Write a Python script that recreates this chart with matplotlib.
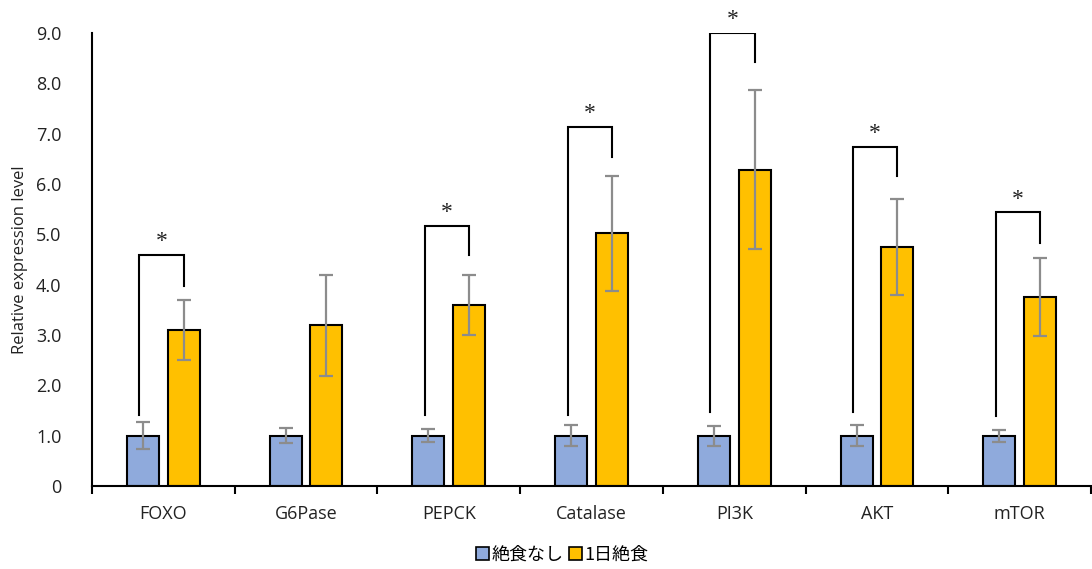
import matplotlib
matplotlib.use("Agg")
import matplotlib.pyplot as plt
import numpy as np
from matplotlib.patches import Patch

# Gene expression data
genes = ["FOXO", "G6Pase", "PEPCK", "Catalase", "PI3K", "AKT", "mTOR"]
control_mean = [1.00, 1.00, 1.00, 1.00, 1.00, 1.00, 1.00]
control_err = [0.27, 0.15, 0.13, 0.21, 0.20, 0.21, 0.12]
fasted_mean = [3.10, 3.19, 3.60,5.02, 6.28, 4.75, 3.76]
fasted_err = [0.60, 1.01, 0.59, 1.14, 1.58, 0.95, 0.77]
series_names = ["絶食なし", "1日絶食"]

# Significance brackets: (gene index, left foot, right foot, top)
sig_genes = [0, 2, 3, 4, 5, 6]
sig_left_foot = [1.41, 1.41, 1.41, 1.48, 1.48, 1.40]
sig_right_foot = [3.98, 4.59, 6.54, 8.42, 6.15, 4.83]
sig_top = [4.59, 5.17, 7.14, 9.01, 6.74, 5.44]

plt.rcParams["font.family"] = ["Open Sans", "Noto Sans CJK JP", "DejaVu Sans"]

fig = plt.figure(figsize=(10.92, 5.69), dpi=100)
ax = fig.add_axes([0.0842, 0.1459, 0.915, 0.796])

x = np.arange(len(genes))
w = 0.224
off = 0.143
blue = "#8FAADC"
gold = "#FFC000"
err_kw = dict(ecolor="#8C8C8C", elinewidth=1.6, capsize=5, capthick=1.6)

ax.bar(x - off, control_mean, w, color=blue, edgecolor="black", linewidth=1.5,
       yerr=control_err, error_kw=err_kw, zorder=2)
ax.bar(x + off, fasted_mean, w, color=gold, edgecolor="black", linewidth=1.5,
       yerr=fasted_err, error_kw=err_kw, zorder=2)

for gi, lf, rf, top in zip(sig_genes, sig_left_foot, sig_right_foot, sig_top):
    xl = gi - off - 0.025
    xr = gi + off
    ax.plot([xl, xl, xr, xr], [lf, top, top, rf], color="black", lw=1.5,
            solid_joinstyle="miter", zorder=3)
    ax.text((xl + xr) / 2, top + 0.05, "*", ha="center", va="bottom",
            fontsize=17, family="Liberation Serif", color="#222222")

ax.set_xlim(-0.5, len(genes) - 0.5)
ax.set_ylim(0, 9)
ax.set_yticks(np.arange(0, 10, 1))
ax.set_yticklabels(["0"] + [f"{v:.1f}" for v in range(1, 10)])
ax.tick_params(axis="y", length=0, pad=22, labelsize=13, colors="#222222")
ax.set_xticks(x)
ax.set_xticklabels(genes)
ax.tick_params(axis="x", which="major", length=0, pad=14, labelsize=13,
               colors="#222222")
ax.set_xticks(np.arange(-0.5, len(genes), 1), minor=True)
ax.tick_params(axis="x", which="minor", length=6, width=1.5, direction="out",
               color="black")

for s in ["top", "right"]:
    ax.spines[s].set_visible(False)
ax.spines["left"].set_linewidth(1.5)
ax.spines["bottom"].set_linewidth(1.5)

ax.set_ylabel("Relative expression level", fontsize=12, color="#222222",
              labelpad=6)

handles = [Patch(facecolor=blue, edgecolor="black", linewidth=1.2),
           Patch(facecolor=gold, edgecolor="black", linewidth=1.2)]
fig.legend(handles, series_names, loc="center", bbox_to_anchor=(0.515, 0.025),
           ncol=2, frameon=False, fontsize=13, handlelength=0.7,
           handleheight=0.7, handletextpad=0.15, columnspacing=0.3,
           prop={"family": ["Noto Sans CJK JP"], "size": 13})

fig.savefig("out.png", dpi=100)
